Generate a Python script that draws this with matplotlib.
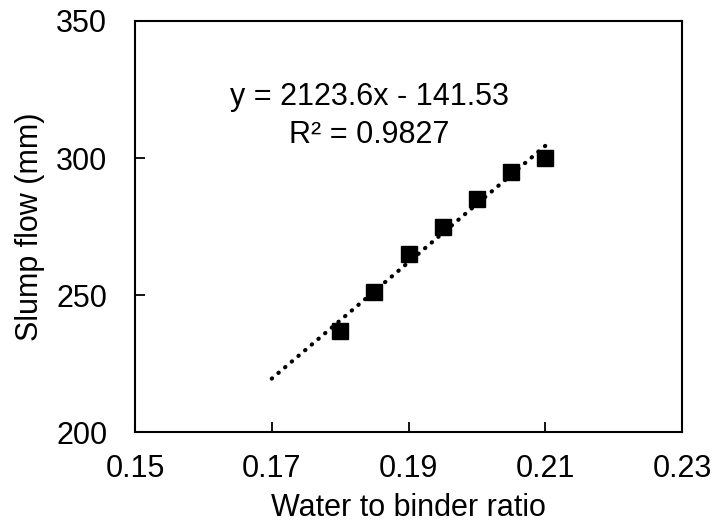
import matplotlib
matplotlib.use("Agg")
import matplotlib.pyplot as plt
import numpy as np

plt.rcParams['font.family'] = ['Liberation Sans', 'DejaVu Sans']

wb_ratio = [0.18, 0.185, 0.19, 0.195, 0.20, 0.205, 0.21]
slump_flow = [237, 251, 265, 275, 285, 295, 300]
trend_slope = 2123.6
trend_intercept = -141.53
trend_x = [0.17, 0.21]
x_ticks = [0.15, 0.17, 0.19, 0.21, 0.23]
y_ticks = [200, 250, 300, 350]

fig = plt.figure(figsize=(7.16, 5.28), dpi=100)
ax = fig.add_axes([135 / 716, 1 - 432 / 528, 547 / 716, 411 / 528])

tx = np.array(trend_x)
ax.plot(tx, trend_slope * tx + trend_intercept, color='black', lw=3,
        linestyle=(0, (0.1, 2.0)), dash_capstyle='round', zorder=2)
ax.plot(wb_ratio, slump_flow, linestyle='none', marker='s', markersize=12,
        color='black', zorder=3)

ax.set_xlim(0.15, 0.23)
ax.set_ylim(200, 350)
ax.set_xticks(x_ticks)
ax.set_yticks(y_ticks)
ax.set_xticklabels([f"{v:.2f}" for v in x_ticks])
ax.set_yticklabels([str(v) for v in y_ticks])
ax.tick_params(direction='in', length=7, width=1.3, labelsize=22)
ax.tick_params(axis='y', pad=20)
ax.tick_params(axis='x', pad=16)
for s in ax.spines.values():
    s.set_linewidth(1.5)

ax.set_xlabel('Water to binder ratio', fontsize=22, labelpad=6)
ax.set_ylabel('Slump flow (mm)', fontsize=22, labelpad=8)

ax.text(0.1843, 319.3, 'y = 2123.6x - 141.53', fontsize=22, ha='center', va='baseline')
ax.text(0.1843, 305.5, 'R² = 0.9827', fontsize=22, ha='center', va='baseline')

fig.savefig('out.png', dpi=100)
